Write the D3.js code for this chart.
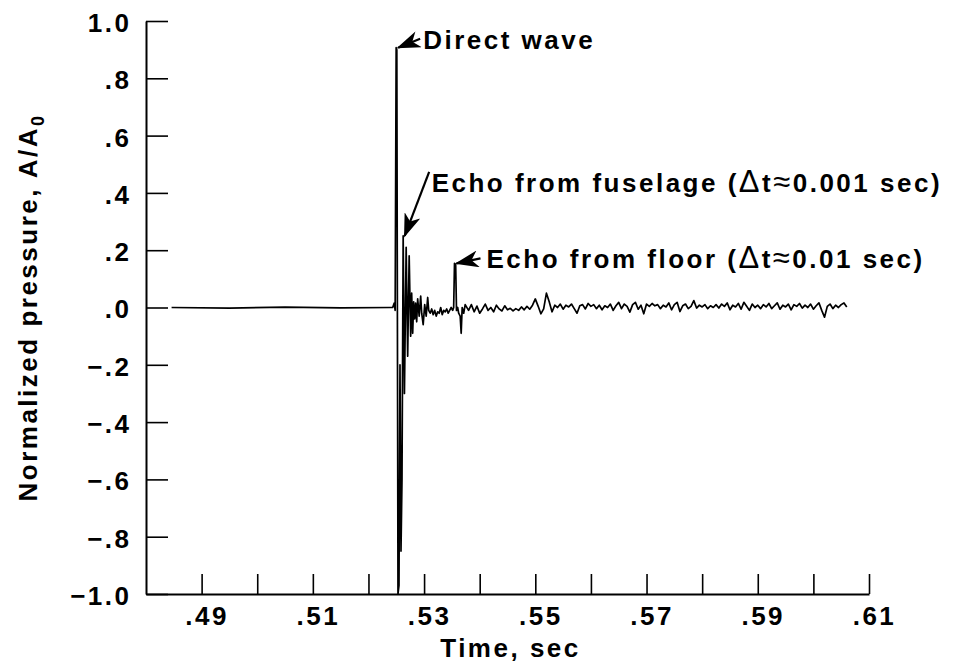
<!DOCTYPE html>
<html>
<head>
<meta charset="utf-8">
<script src="https://cdn.jsdelivr.net/npm/d3@7"></script>
<style>
  body { margin: 0; background: #fff; }
  svg text {
    font-family: "Liberation Sans", Arial, Helvetica, sans-serif;
    font-weight: bold;
    font-size: 26px;
    letter-spacing: 2.5px;
    fill: #000;
  }
  .axis path, .axis line { stroke: #000; }
  .axis path { stroke-width: 2; }
  .axis line { stroke-width: 1.6; }
  .trace { fill: none; stroke: #000; stroke-width: 1.7; stroke-linejoin: round; }
  .arrow { stroke: #000; stroke-width: 2.2; }
</style>
</head>
<body>
<div class="chart-pressure"></div>
<script>
// quiet record before the wave arrives (sec, A/A0)
const baseTimes = [0.4846, 0.4950, 0.5050, 0.5150, 0.5240];
const baseValues = [0, -0.002, 0.001, -0.001, 0];

// direct wave, fuselage echo and its ringing, floor echo
const burstTimes = [
  0.52435, 0.52462, 0.52480, 0.52498, 0.52510, 0.52531, 0.52549, 0.52567, 0.52585, 0.52603,
  0.52624, 0.52647, 0.52678, 0.52705, 0.52732, 0.52759, 0.52777, 0.52795, 0.52813, 0.52831,
  0.52849, 0.52867, 0.52885, 0.52912, 0.52939, 0.52957, 0.52984, 0.53011, 0.53038, 0.53065,
  0.53083, 0.53110, 0.53137, 0.53164, 0.53191, 0.53218, 0.53245, 0.53272, 0.53299, 0.53326,
  0.53353, 0.53380, 0.53407, 0.53434, 0.53460, 0.53487, 0.53514, 0.53532, 0.53547, 0.53568,
  0.53583, 0.53604, 0.53622, 0.53649, 0.53667, 0.53685, 0.53712, 0.53739,
];
const burstValues = [
  0, 0.015, -0.01, 0.907, 0.9, -1.0, -0.97, -0.2, -0.85, -0.6,
  0.25, -0.3, 0.21, -0.17, 0.18, -0.1, 0.05, -0.09, 0.02, -0.04,
  0.015, -0.05, 0.03, -0.03, 0.04, -0.02, -0.06, 0.01, -0.03, 0.035,
  -0.01, -0.02, -0.005, -0.025, -0.01, -0.03, -0.015, -0.02, 0.0, -0.025,
  -0.01, -0.015, -0.005, -0.02, -0.01, 0.0, -0.01, 0.0, 0.154, 0.15,
  -0.01, 0.0, -0.02, -0.03, -0.09, 0.0, -0.02, 0.01,
];

// background noise to the end of the record
const tailTimes = [
  0.5380, 0.5385, 0.5390, 0.5395, 0.5400, 0.5405, 0.5410, 0.5415, 0.5420, 0.5425,
  0.5430, 0.5435, 0.5440, 0.5445, 0.5450, 0.5455, 0.5460, 0.5465, 0.5470, 0.5475,
  0.5480, 0.5485, 0.5490, 0.5495, 0.5500, 0.5505, 0.5510, 0.5515, 0.5520, 0.5525,
  0.5530, 0.5535, 0.5540, 0.5545, 0.5550, 0.5555, 0.5560, 0.5565, 0.5570, 0.5575,
  0.5580, 0.5585, 0.5590, 0.5595, 0.5600, 0.5605, 0.5610, 0.5615, 0.5620, 0.5625,
  0.5630, 0.5635, 0.5640, 0.5645, 0.5650, 0.5655, 0.5660, 0.5665, 0.5670, 0.5675,
  0.5680, 0.5685, 0.5690, 0.5695, 0.5700, 0.5705, 0.5710, 0.5715, 0.5720, 0.5725,
  0.5730, 0.5735, 0.5740, 0.5745, 0.5750, 0.5755, 0.5760, 0.5765, 0.5770, 0.5775,
  0.5780, 0.5785, 0.5790, 0.5795, 0.5800, 0.5805, 0.5810, 0.5815, 0.5820, 0.5825,
  0.5830, 0.5835, 0.5840, 0.5845, 0.5850, 0.5855, 0.5860, 0.5865, 0.5870, 0.5875,
  0.5880, 0.5885, 0.5890, 0.5895, 0.5900, 0.5905, 0.5910, 0.5915, 0.5920, 0.5925,
  0.5930, 0.5935, 0.5940, 0.5945, 0.5950, 0.5955, 0.5960, 0.5965, 0.5970, 0.5975,
  0.5980, 0.5985, 0.5990, 0.5995, 0.6000, 0.6005, 0.6010, 0.6015, 0.6020, 0.6025,
  0.6030, 0.6035, 0.6040, 0.6045, 0.6050, 0.6055, 0.6060,
];
const tailValues = [
  -0.01, 0.01, -0.015, 0.005, -0.02, -0.005, 0.012, -0.01, 0.0, -0.015,
  0.008, -0.005, -0.012, 0.006, -0.008, -0.003, -0.012, -0.004, -0.01, 0.002,
  -0.008, 0.004, -0.006, 0.008, 0.03, 0.005, -0.022, -0.005, 0.05, 0.02,
  -0.015, 0.008, 0.0, 0.012, -0.006, 0.008, 0.002, 0.012, -0.004, -0.02,
  0.006, 0.01, -0.005, 0.014, 0.004, 0.01, -0.004, 0.008, -0.008, 0.006,
  0.0, 0.012, -0.01, 0.006, 0.018, -0.004, 0.012, 0.004, -0.016, 0.01,
  0.018, -0.006, 0.008, -0.022, 0.012, 0.004, 0.014, 0.006, 0.01, -0.004,
  0.008, 0.002, 0.016, -0.008, 0.01, 0.018, -0.014, 0.006, 0.012, -0.004,
  0.004, 0.024, -0.002, 0.008, 0.002, 0.01, -0.004, 0.006, 0.0, 0.01,
  -0.002, 0.012, 0.004, 0.016, -0.008, 0.008, 0.002, 0.014, -0.006, 0.018,
  0.004, -0.01, 0.012, 0.0, 0.008, -0.004, 0.01, 0.002, 0.014, -0.004,
  0.006, 0.016, -0.006, 0.008, 0.002, 0.012, -0.008, 0.01, 0.004, 0.014,
  -0.002, 0.008, 0.0, 0.012, -0.006, 0.006, 0.016, -0.01, -0.034, 0.004,
  0.012, -0.004, 0.008, 0.0, 0.01, 0.016, 0.002,
];

// axes
const xTicks = [0.49, 0.50, 0.51, 0.52, 0.53, 0.54, 0.55, 0.56, 0.57, 0.58, 0.59, 0.60, 0.61];
const xTickLabels = ['.49', '', '.51', '', '.53', '', '.55', '', '.57', '', '.59', '', '.61'];
const yTicks = [-1.0, -0.8, -0.6, -0.4, -0.2, 0.0, 0.2, 0.4, 0.6, 0.8, 1.0];
const yTickLabels = ['\u22121.0', '\u2212.8', '\u2212.6', '\u2212.4', '\u2212.2', '.0', '.2', '.4', '.6', '.8', '1.0'];

// callouts: text and the peak each one points at
const annotationTexts = [
  'Direct wave',
  'Echo from fuselage (\u0394t\u22480.001 sec)',
  'Echo from floor (\u0394t\u22480.01 sec)',
];
const annotationTimes = [0.52498, 0.52624, 0.53547];
const annotationValues = [0.907, 0.25, 0.154];

const margin = { top: 21, right: 85, bottom: 72, left: 146 };
const widthBase = 954, heightBase = 666;
const width = widthBase - margin.left - margin.right,
  height = heightBase - margin.top - margin.bottom;

const root = d3.select('.chart-pressure').append('svg')
  .attr('width', widthBase)
  .attr('height', heightBase);

const defs = root.append('defs');
defs.append('marker')
  .attr('id', 'head')
  .attr('viewBox', '0 0 14 10')
  .attr('refX', 13)
  .attr('refY', 5)
  .attr('markerUnits', 'userSpaceOnUse')
  .attr('markerWidth', 24)
  .attr('markerHeight', 17)
  .attr('orient', 'auto')
  .append('path')
  .attr('d', 'M0,0L14,5L0,10L4,5Z')
  .attr('fill', '#000');

const svg = root.append('g')
  .attr('transform', 'translate(' + margin.left + ',' + margin.top + ')');

const x = d3.scaleLinear()
  .domain([0.48, 0.61])
  .range([0, width]);

const y = d3.scaleLinear()
  .domain([-1, 1])
  .range([height, 0]);

// x axis, ticks pointing up into the plot
const xAxis = d3.axisBottom(x)
  .tickValues(xTicks)
  .tickSize(-20)
  .tickSizeOuter(0)
  .tickPadding(13)
  .tickFormat((d, i) => xTickLabels[i]);

svg.append('g')
  .attr('class', 'x axis')
  .attr('transform', 'translate(0,' + height + ')')
  .call(xAxis)
  .selectAll('text')
  .attr('dx', 5);

// y axis, ticks pointing right
const yAxis = d3.axisLeft(y)
  .tickValues(yTicks)
  .tickSize(-22)
  .tickSizeOuter(0)
  .tickPadding(14.5)
  .tickFormat((d, i) => yTickLabels[i]);

svg.append('g')
  .attr('class', 'y axis')
  .call(yAxis)
  .selectAll('text')
  .attr('dy', '0.4em');

// the pressure record
const record = [];
[[baseTimes, baseValues], [burstTimes, burstValues], [tailTimes, tailValues]].forEach(([ts, vs]) => {
  ts.forEach((t, i) => record.push({ t: t, v: vs[i] }));
});

const line = d3.line()
  .x((d) => x(d.t))
  .y((d) => y(d.v));

svg.append('path')
  .datum(record)
  .attr('class', 'trace')
  .attr('d', line);

// callouts, offsets in px from the peak they point at
const callout = [
  { tip: [2, 0], tail: [24, -9], text: [27, 1] },
  { tip: [1.5, 0], tail: [26, -64], text: [28.5, -44] },
  { tip: [2, 0], tail: [26, -5], text: [32, 4.6] },
];

annotationTexts.forEach((label, i) => {
  const px = x(annotationTimes[i]), py = y(annotationValues[i]);
  const c = callout[i];
  svg.append('line')
    .attr('class', 'arrow')
    .attr('x1', px + c.tail[0])
    .attr('y1', py + c.tail[1])
    .attr('x2', px + c.tip[0])
    .attr('y2', py + c.tip[1])
    .attr('marker-end', 'url(#head)');
  const t = svg.append('text')
    .attr('x', px + c.text[0])
    .attr('y', py + c.text[1]);
  // the delta and approx signs are drawn larger in the original lettering
  label.split(/([\u0394\u2248])/).filter((s) => s.length).forEach((part) => {
    const big = part === '\u0394' || part === '\u2248';
    t.append('tspan')
      .style('font-size', big ? '31px' : null)
      .style('font-weight', big ? 'normal' : null)
      .text(part);
  });
});

// axis titles
svg.append('text')
  .attr('x', width / 2 + 3)
  .attr('y', height + 63)
  .attr('text-anchor', 'middle')
  .text('Time, sec');

const yTitle = svg.append('text')
  .attr('transform', 'translate(' + (37 - margin.left) + ',' + (height / 2) + ') rotate(-90)')
  .attr('text-anchor', 'middle');
yTitle.append('tspan').text('Normalized pressure, A/A');
yTitle.append('tspan')
  .attr('dy', 7)
  .style('font-size', '18px')
  .text('0');
</script>
</body>
</html>
